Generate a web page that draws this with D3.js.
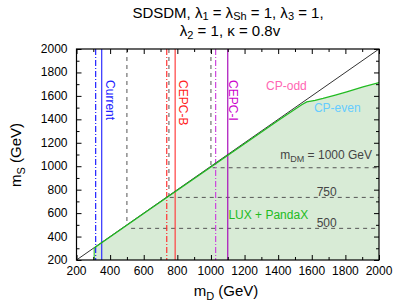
<!DOCTYPE html>
<html>
<head>
<meta charset="utf-8">
<script src="https://cdn.jsdelivr.net/npm/d3@7"></script>
<style>
  body { margin: 0; background: #fff; }
  text { font-family: "Liberation Sans", Arial, Helvetica, sans-serif; }
</style>
</head>
<body>
<svg id="chart" width="395" height="302"></svg>
<script>
// data
const xTicks = [200, 400, 600, 800, 1000, 1200, 1400, 1600, 1800, 2000];
const yTicks = [200, 400, 600, 800, 1000, 1200, 1400, 1600, 1800, 2000];

// LUX + PandaX allowed boundary (CP-even)
const cpEven = [
  [305, 303], [600, 596], [1000, 993], [1400, 1390], [1540, 1525],
  [1570, 1549], [1620, 1562], [1667, 1578], [1740, 1606],
  [1808, 1634], [1905, 1676], [2000, 1714]
];

// collider reaches: m_D, colour, style
const reaches = [
  { m: 314, color: '#2020ff', style: 'dashdot' },
  { m: 350, color: '#3030ff', style: 'solid' },
  { m: 737, color: '#ff3030', style: 'dashdot' },
  { m: 787, color: '#ff4040', style: 'solid' },
  { m: 1028, color: '#cc44dd', style: 'dashdot' },
  { m: 1100, color: '#aa10bb', style: 'solid' }
];

// m_DM contours: vertical part at m_D = m, horizontal part at m_S = level
const dmContours = [
  { m: 500, level: 470, start: 525 },
  { m: 750, level: 734, start: 755 },
  { m: 1000, level: 987, start: 1010 }
];

const svg = d3.select('#chart');
const margin = { top: 49, right: 16, bottom: 42, left: 76.5 };
const width = 395, height = 302;

const x = d3.scaleLinear().domain([200, 2000]).range([margin.left, width - margin.right]);
const y = d3.scaleLinear().domain([200, 2000]).range([height - margin.bottom, margin.top]);

const plot = svg.append('g');

svg.append('defs').append('clipPath').attr('id', 'clip')
   .append('rect')
   .attr('x', x(200)).attr('y', y(2000))
   .attr('width', x(2000) - x(200)).attr('height', y(200) - y(2000));

const inner = plot.append('g').attr('clip-path', 'url(#clip)');

// green filled region
const area = [[cpEven[0][0], 200]].concat(cpEven).concat([[2000, 200]]);
inner.append('path')
     .attr('d', d3.line().x(d => x(d[0])).y(d => y(d[1]))(area) + 'Z')
     .attr('fill', '#d8ebd6');

// m_DM dashed contours
dmContours.forEach(c => {
  inner.append('line')
       .attr('x1', x(c.m)).attr('x2', x(c.m))
       .attr('y1', y(2000)).attr('y2', y(c.m))
       .attr('stroke', '#555').attr('stroke-width', 1)
       .attr('stroke-dasharray', '4,4');
  inner.append('line')
       .attr('x1', x(c.start)).attr('x2', x(2000))
       .attr('y1', y(c.level)).attr('y2', y(c.level))
       .attr('stroke', '#555').attr('stroke-width', 1)
       .attr('stroke-dasharray', '4,4');
});

// collider lines
reaches.forEach(r => {
  inner.append('line')
       .attr('x1', x(r.m)).attr('x2', x(r.m))
       .attr('y1', y(2000)).attr('y2', y(200))
       .attr('stroke', r.color).attr('stroke-width', 1.2)
       .attr('stroke-dasharray', r.style === 'dashdot' ? '6,2,1,2' : null);
});

// diagonal m_S = m_D
inner.append('line')
     .attr('x1', x(200)).attr('y1', y(200))
     .attr('x2', x(2000)).attr('y2', y(2000))
     .attr('stroke', '#333').attr('stroke-width', 1);

// green boundary
inner.append('path')
     .attr('d', d3.line().x(d => x(d[0])).y(d => y(d[1]))(cpEven))
     .attr('fill', 'none').attr('stroke', '#22bb22').attr('stroke-width', 1.3);
inner.append('line')
     .attr('x1', x(cpEven[0][0])).attr('x2', x(cpEven[0][0]))
     .attr('y1', y(cpEven[0][1])).attr('y2', y(200))
     .attr('stroke', '#22bb22').attr('stroke-width', 1);

// axes with inward ticks on all four sides
const minorX = d3.range(300, 2000, 200);
const minorY = d3.range(300, 2000, 200);

function tickSide(axisFn, scale, transform, major, minor) {
  const g = plot.append('g').attr('transform', transform);
  g.call(axisFn(scale).tickValues(major).tickSize(-5).tickFormat(''));
  g.append('g').call(axisFn(scale).tickValues(minor).tickSize(-3).tickFormat(''));
  g.selectAll('path.domain').remove();
  g.selectAll('line').attr('stroke', '#000');
  return g;
}
tickSide(d3.axisBottom, x, `translate(0,${y(200)})`, xTicks, minorX);
tickSide(d3.axisTop, x, `translate(0,${y(2000)})`, xTicks, minorX);
tickSide(d3.axisLeft, y, `translate(${x(200)},0)`, yTicks, minorY);
tickSide(d3.axisRight, y, `translate(${x(2000)},0)`, yTicks, minorY);

plot.append('rect')
    .attr('x', x(200)).attr('y', y(2000))
    .attr('width', x(2000) - x(200)).attr('height', y(200) - y(2000))
    .attr('fill', 'none').attr('stroke', '#000').attr('stroke-width', 1.2);

// tick labels
plot.append('g').selectAll('text')
    .data(xTicks).enter().append('text')
    .attr('x', d => x(d)).attr('y', y(200) + 15)
    .attr('text-anchor', 'middle')
    .attr('font-size', 12).attr('fill', '#000')
    .text(d => d);

plot.append('g').selectAll('text')
    .data(yTicks).enter().append('text')
    .attr('x', x(200) - 9).attr('y', d => y(d) + 4)
    .attr('text-anchor', 'end')
    .attr('font-size', 12).attr('fill', '#000')
    .text(d => d);

// axis titles
const xt = svg.append('text')
    .attr('x', 226).attr('y', 296)
    .attr('text-anchor', 'middle').attr('font-size', 15);
xt.append('tspan').text('m');
xt.append('tspan').attr('dy', 4).attr('font-size', 11).text('D');
xt.append('tspan').attr('dy', -4).text('  (GeV)');

const yt = svg.append('text')
    .attr('transform', 'translate(21,155) rotate(-90)')
    .attr('text-anchor', 'middle').attr('font-size', 15);
yt.append('tspan').text('m');
yt.append('tspan').attr('dy', 4).attr('font-size', 11).text('S');
yt.append('tspan').attr('dy', -4).text('  (GeV)');

// title
const t1 = svg.append('text')
    .attr('x', 228).attr('y', 18)
    .attr('text-anchor', 'middle').attr('font-size', 15);
t1.append('tspan').text('SDSDM, λ');
t1.append('tspan').attr('dy', 2).attr('font-size', 11).text('1');
t1.append('tspan').attr('dy', -2).text(' = λ');
t1.append('tspan').attr('dy', 2).attr('font-size', 11).text('Sh');
t1.append('tspan').attr('dy', -2).text(' = 1, λ');
t1.append('tspan').attr('dy', 2).attr('font-size', 11).text('3');
t1.append('tspan').attr('dy', -2).text(' = 1,');

const t2 = svg.append('text')
    .attr('x', 230).attr('y', 36)
    .attr('text-anchor', 'middle').attr('font-size', 15);
t2.append('tspan').text('λ');
t2.append('tspan').attr('dy', 3).attr('font-size', 11).text('2');
t2.append('tspan').attr('dy', -3).text(' = 1, κ = 0.8v');

// in-plot labels
function vLabel(txt, mx, my, color) {
  svg.append('text')
     .attr('transform', `translate(${x(mx)},${y(my)}) rotate(90)`)
     .attr('font-size', 12).attr('fill', color)
     .text(txt);
}
vLabel('Current', 378, 1735, '#2020ff');
vLabel('CEPC-B', 810, 1735, '#ff2020');
vLabel('CEPC-I', 1106, 1735, '#cc00cc');

svg.append('text').attr('x', x(1328)).attr('y', y(1648))
   .attr('font-size', 12).attr('fill', '#ff66b3').text('CP-odd');
svg.append('text').attr('x', x(1613)).attr('y', y(1463))
   .attr('font-size', 12).attr('fill', '#66ccff').text('CP-even');

const dm = svg.append('text').attr('x', x(2000) - 7).attr('y', y(1060))
   .attr('text-anchor', 'end')
   .attr('font-size', 12).attr('fill', '#444');
dm.append('tspan').text('m');
dm.append('tspan').attr('dy', 3).attr('font-size', 9).text('DM');
dm.append('tspan').attr('dy', -3).text(' = 1000 GeV');

svg.append('text').attr('x', x(1629)).attr('y', y(745))
   .attr('font-size', 12).attr('fill', '#444').text('750');
svg.append('text').attr('x', x(1629)).attr('y', y(482))
   .attr('font-size', 12).attr('fill', '#444').text('500');
svg.append('text').attr('x', x(1104)).attr('y', y(552))
   .attr('font-size', 12).attr('fill', '#22bb22').text('LUX + PandaX');
</script>
</body>
</html>
